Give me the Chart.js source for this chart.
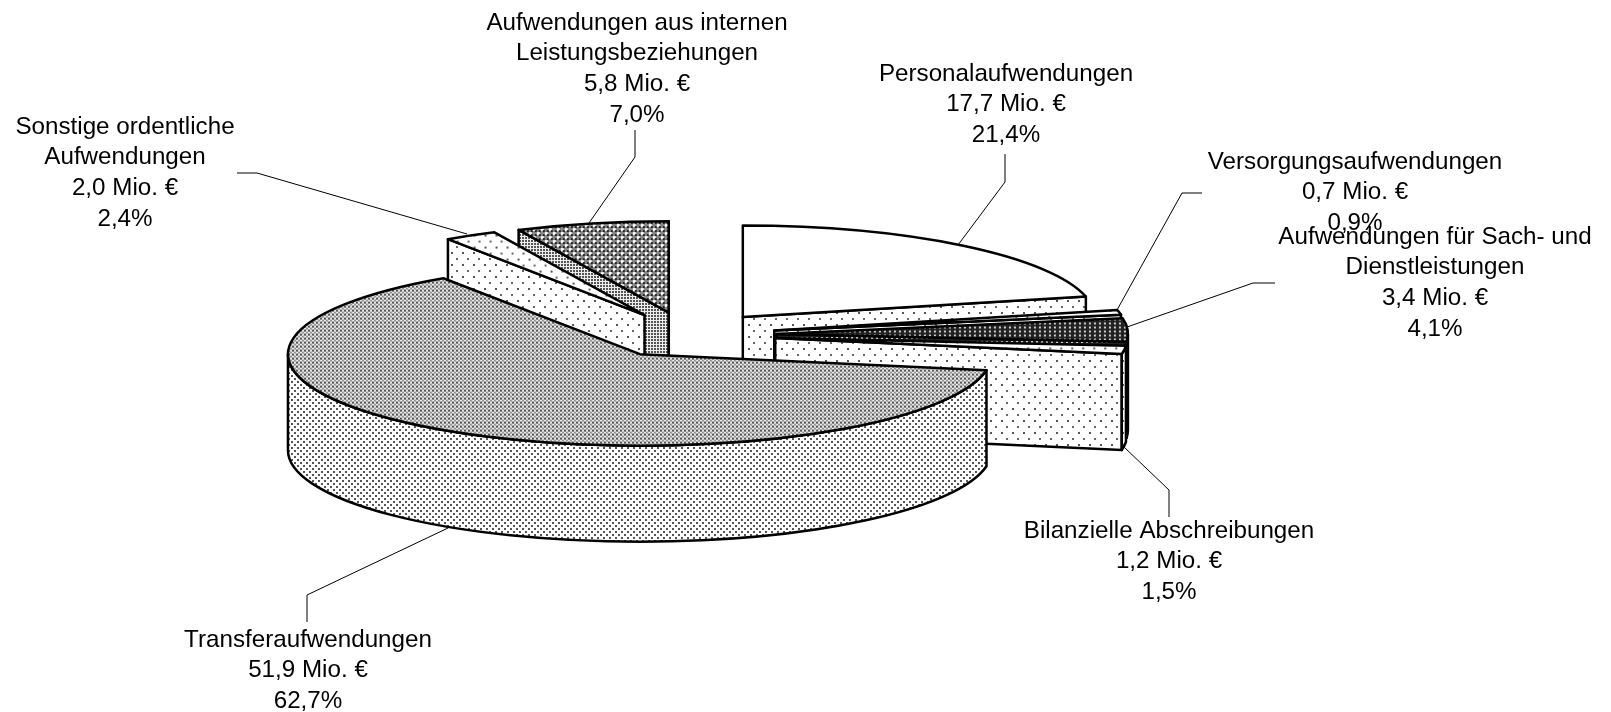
<!DOCTYPE html>
<html>
<head>
<meta charset="utf-8">
<style>
  html, body { margin: 0; background: #fff; }
  canvas { display: block; }
</style>
<script src="https://cdn.jsdelivr.net/npm/chart.js@4"></script>
</head>
<body>
<canvas id="expenses" width="1611" height="712"></canvas>
<script>
const categories = [
  'Personalaufwendungen',
  'Versorgungsaufwendungen',
  'Aufwendungen für Sach- und Dienstleistungen',
  'Bilanzielle Abschreibungen',
  'Transferaufwendungen',
  'Sonstige ordentliche Aufwendungen',
  'Aufwendungen aus internen Leistungsbeziehungen'
];
const valuesMio = [17.7, 0.7, 3.4, 1.2, 51.9, 2.0, 5.8];
const amountLabels = ['17,7 Mio. €', '0,7 Mio. €', '3,4 Mio. €', '1,2 Mio. €', '51,9 Mio. €', '2,0 Mio. €', '5,8 Mio. €'];
const percentLabels = ['21,4%', '0,9%', '4,1%', '1,5%', '62,7%', '2,4%', '7,0%'];
const nameLines = [
  ['Personalaufwendungen'],
  ['Versorgungsaufwendungen'],
  ['Aufwendungen für Sach- und', 'Dienstleistungen'],
  ['Bilanzielle Abschreibungen'],
  ['Transferaufwendungen'],
  ['Sonstige ordentliche', 'Aufwendungen'],
  ['Aufwendungen aus internen', 'Leistungsbeziehungen']
];

// look of the tilted pie
const tilt = 0.26;
const depth = 96;
const explode = 88;
const pieCenterY = 335;
const drawOrder = [6, 5, 0, 1, 2, 3, 4];

// label centre x, first line y, leader line
const labelLayout = [
  { x: 1006, y: 74, leader: [[1005, 154], [1005, 182], [958, 245]] },
  { x: 1355, y: 162, leader: [[1202, 193], [1182, 193], [1117, 310]] },
  { x: 1435, y: 237, leader: [[1275, 283], [1253, 283], [1127, 327]] },
  { x: 1169, y: 531, leader: [[1169, 517], [1169, 490], [1124, 447]] },
  { x: 308, y: 640, leader: [[307, 622], [307, 595], [448, 528]] },
  { x: 125, y: 127, leader: [[237, 173], [257, 173], [467, 234]] },
  { x: 637, y: 23, leader: [[635, 130], [635, 157], [589, 223]] }
];

function makePattern(size, bg, dots, flatten) {
  const tile = document.createElement('canvas');
  tile.width = size[0];
  tile.height = size[1];
  const c = tile.getContext('2d');
  c.fillStyle = bg;
  c.fillRect(0, 0, size[0], size[1]);
  dots.forEach(d => {
    c.fillStyle = d[3];
    c.fillRect(d[0], d[1], d[2], d[2]);
  });
  const pattern = c.createPattern(tile, 'repeat');
  // top faces get painted under the tilt, so undo it for the pattern
  if (flatten) pattern.setTransform(new DOMMatrix([1, 0, 0, 1 / tilt, 0, 0]));
  return pattern;
}

const sparseDots = [[0, 0, 2, '#555'], [5, 6, 2, '#666']];
const fineDots = [[0, 0, 2, '#555'], [3, 3, 2, '#555']];
const denseDots = [[0, 0, 2, '#555'], [2, 2, 2, '#999']];
const hatch = [[0, 0, 3, '#fff'], [4, 4, 3, '#fff'], [2, 2, 2, '#222'], [6, 6, 2, '#222'], [6, 2, 2, '#222'], [2, 6, 2, '#222']];

const topFills = [
  '#fff',
  makePattern([11, 12], '#fff', sparseDots, true),
  makePattern([5, 4], '#222', [[1, 1, 2, '#ccc']], true),
  makePattern([11, 12], '#fff', sparseDots, true),
  makePattern([4, 4], '#e6e6e6', denseDots, true),
  makePattern([11, 12], '#fff', sparseDots, true),
  makePattern([8, 8], '#888', hatch, true)
];
const wallFills = [
  makePattern([11, 12], '#fff', sparseDots),
  makePattern([11, 12], '#fff', sparseDots),
  makePattern([5, 4], '#222', [[1, 1, 2, '#ccc']]),
  makePattern([11, 12], '#fff', sparseDots),
  makePattern([6, 6], '#fff', fineDots),
  makePattern([11, 12], '#fff', sparseDots),
  makePattern([3, 3], '#eee', [[0, 0, 2, '#555']])
];

function drawSlice(ctx, arc, i) {
  const mid = (arc.startAngle + arc.endAngle) / 2;
  const rx = arc.outerRadius;
  const ry = rx * tilt;
  const cx = arc.x + Math.cos(mid) * explode;
  const cy = pieCenterY + Math.sin(mid) * explode * tilt;

  ctx.lineWidth = 2.5;
  ctx.strokeStyle = '#000';
  ctx.lineJoin = 'round';

  // cut faces, only the ones turned to the viewer
  const edges = [];
  if (Math.cos(arc.startAngle) < 0) edges.push(arc.startAngle);
  if (Math.cos(arc.endAngle) > 0) edges.push(arc.endAngle);
  edges.forEach(a => {
    const ox = cx + rx * Math.cos(a);
    const oy = cy + ry * Math.sin(a);
    ctx.beginPath();
    ctx.moveTo(cx, cy);
    ctx.lineTo(ox, oy);
    ctx.lineTo(ox, oy + depth);
    ctx.lineTo(cx, cy + depth);
    ctx.closePath();
    ctx.fillStyle = wallFills[i];
    ctx.fill();
    ctx.stroke();
  });

  // rim, front half only
  const from = Math.max(arc.startAngle, 0);
  const to = Math.min(arc.endAngle, Math.PI);
  if (to > from) {
    ctx.beginPath();
    ctx.ellipse(cx, cy, rx, ry, 0, from, to);
    ctx.ellipse(cx, cy + depth, rx, ry, 0, to, from, true);
    ctx.closePath();
    ctx.fillStyle = wallFills[i];
    ctx.fill();
    ctx.stroke();
  }

  // top face, the library's own arc squashed by the tilt
  ctx.save();
  ctx.translate(cx, cy);
  ctx.scale(1, tilt);
  ctx.translate(-arc.x, -arc.y);
  arc.draw(ctx);
  ctx.restore();

  ctx.beginPath();
  ctx.moveTo(cx, cy);
  ctx.ellipse(cx, cy, rx, ry, 0, arc.startAngle, arc.endAngle);
  ctx.closePath();
  ctx.stroke();
}

const tiltedPie = {
  id: 'tiltedPie',
  beforeDatasetDraw(chart, args) {
    const ctx = chart.ctx;
    drawOrder.forEach(i => drawSlice(ctx, args.meta.data[i], i));
    return false;
  }
};

const sliceLabels = {
  id: 'sliceLabels',
  afterDraw(chart) {
    const ctx = chart.ctx;
    ctx.save();
    ctx.lineWidth = 1;
    ctx.strokeStyle = '#000';
    labelLayout.forEach(l => {
      ctx.beginPath();
      l.leader.forEach((p, n) => n ? ctx.lineTo(p[0], p[1]) : ctx.moveTo(p[0], p[1]));
      ctx.stroke();
    });
    ctx.fillStyle = '#000';
    ctx.font = '24.2px "Liberation Sans"';
    ctx.textAlign = 'center';
    ctx.textBaseline = 'middle';
    labelLayout.forEach((l, i) => {
      const lines = nameLines[i].concat(amountLabels[i], percentLabels[i]);
      lines.forEach((t, n) => ctx.fillText(t, l.x, l.y + n * 30.7));
    });
    ctx.restore();
  }
};

new Chart(document.getElementById('expenses'), {
  type: 'pie',
  data: {
    labels: categories,
    datasets: [{
      data: valuesMio,
      backgroundColor: topFills,
      borderWidth: 0
    }]
  },
  options: {
    responsive: false,
    animation: false,
    layout: {
      padding: { left: 0, right: 235, top: 4, bottom: 4 }
    },
    plugins: {
      legend: { display: false },
      tooltip: { enabled: false }
    }
  },
  plugins: [tiltedPie, sliceLabels]
});
</script>
</body>
</html>
